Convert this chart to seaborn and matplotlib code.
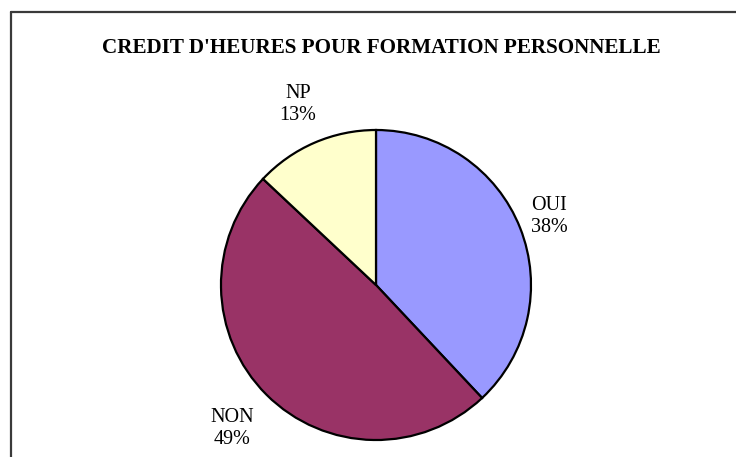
import numpy as np
import matplotlib
matplotlib.use("Agg")
import matplotlib.pyplot as plt
from matplotlib.lines import Line2D
import seaborn as sns

# data
categories = ["OUI", "NON", "NP"]
shares = [38, 49, 13]
slice_colors = ["#9999FF", "#993366", "#FFFFCC"]
title = "CREDIT D'HEURES POUR FORMATION PERSONNELLE"

sns.set_theme(style="white")
plt.rcParams['font.family'] = ['Liberation Serif', 'DejaVu Serif']

W, H = 736, 457
fig = plt.figure(figsize=(W / 100, H / 100), dpi=100)
fig.patch.set_facecolor("white")

# pie placed in pixels: centre (376, 285), radius 155
cx, cy, r = 376, 285, 155
ax = fig.add_axes([(cx - r) / W, (H - cy - r) / H, 2 * r / W, 2 * r / H])

labels = [f"{c}\n{v}%" for c, v in zip(categories, shares)]
wedges, texts = ax.pie(shares, colors=slice_colors, startangle=90, counterclock=False,
                       labels=labels, labeldistance=1.25,
                       wedgeprops={'edgecolor': 'black', 'linewidth': 1.6},
                       textprops={'fontsize': 14.5, 'color': 'black',
                                  'ha': 'center', 'va': 'center', 'linespacing': 1.2})
ax.set_xlim(-1, 1)
ax.set_ylim(-1, 1)
ax.set_aspect('equal')

# label offsets (in radii) similar to the reference
dists = [1.2, 1.31, 1.27]
for w, t, d in zip(wedges, texts, dists):
    mid = np.deg2rad((w.theta1 + w.theta2) / 2)
    t.set_position((d * np.cos(mid), d * np.sin(mid)))
    t.set_horizontalalignment('center')
    t.set_verticalalignment('center')

fig.text(381 / W, 1 - 48 / H, title, ha='center', va='center',
         fontsize=15.2, fontweight='bold', color='black')

# chart frame (only top and left edges are visible in the crop)
lc = "#3a3a3a"
fig.add_artist(Line2D([11 / W, 1.0], [1 - 12 / H, 1 - 12 / H], color=lc, linewidth=1.6,
                      transform=fig.transFigure))
fig.add_artist(Line2D([11 / W, 11 / W], [0.0, 1 - 12 / H], color=lc, linewidth=1.6,
                      transform=fig.transFigure))

fig.savefig("out.png", dpi=100)
